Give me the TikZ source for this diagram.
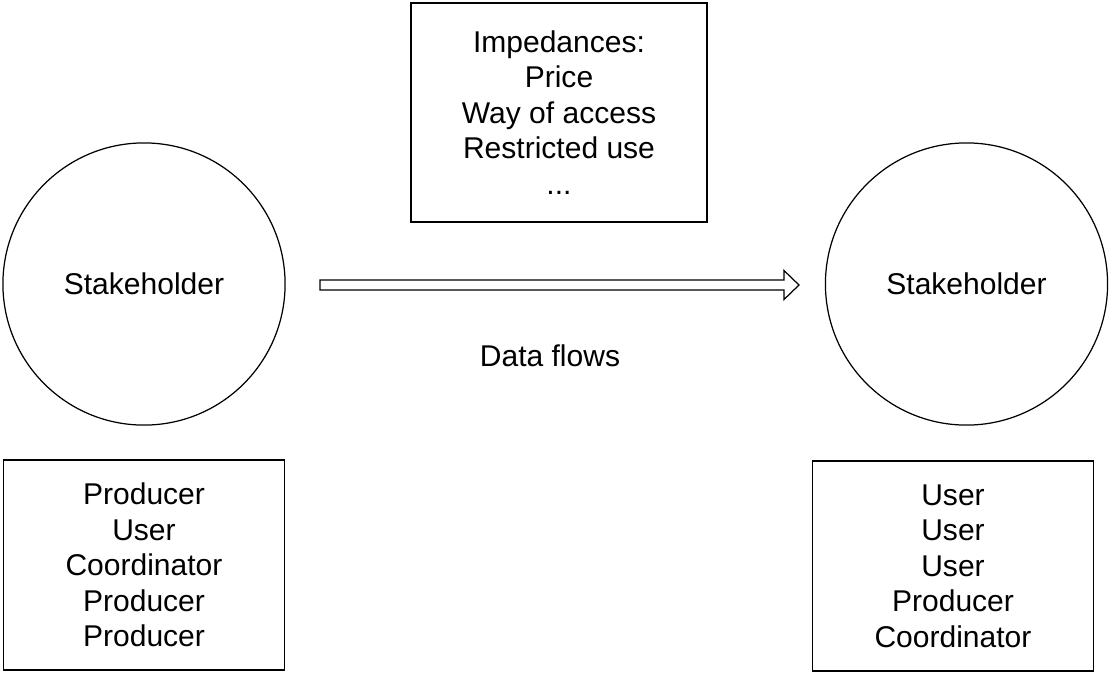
\documentclass[tikz,border=0pt]{standalone}
\usepackage{fontspec}
\setmainfont{Liberation Sans}
\usetikzlibrary{positioning}
\usetikzlibrary{calc}

\begin{document}
\begin{tikzpicture}[x=0.01cm, y=-0.01cm,
		every node/.style={font=\fontsize{8.54}{10.1}\selectfont, align=center},
		actor/.style={draw, circle, minimum size=2.82cm, inner sep=0pt, line width=0.35pt},
		rolebox/.style={draw, rectangle, minimum width=2.81cm, minimum height=2.1cm, inner sep=0pt, line width=0.35pt}]
		\useasboundingbox (0,0) rectangle (1112,675);
		\node[actor] (S1) at (144,284) {Stakeholder};
		\node[actor] (S2) at (966.5,284) {Stakeholder};
		\node[rolebox] (R1) at (144,565) {Producer\\User\\Coordinator\\Producer\\Producer};
		\node[rolebox] (R2) at (953,566) {User\\User\\User\\Producer\\Coordinator};
		\node[rolebox, minimum width=2.96cm, minimum height=2.19cm] (Imp) at (559,112.5) {Impedances:\\Price\\Way of access\\Restricted use\\...};
		\coordinate (flowtail) at (320,285);
		\coordinate (flowtip) at (799,285);
		\draw[line width=0.35pt, fill=white] ($(flowtail)+(0,-5)$) -- ($(flowtip)+(-15,-5)$) -- ($(flowtip)+(-15,-14.5)$) -- (flowtip)
		-- ($(flowtip)+(-15,14.5)$) -- ($(flowtip)+(-15,5)$) -- ($(flowtail)+(0,5)$) -- cycle;
		\node (flowlabel) at (550,356) {Data flows};
\end{tikzpicture}
\end{document}
